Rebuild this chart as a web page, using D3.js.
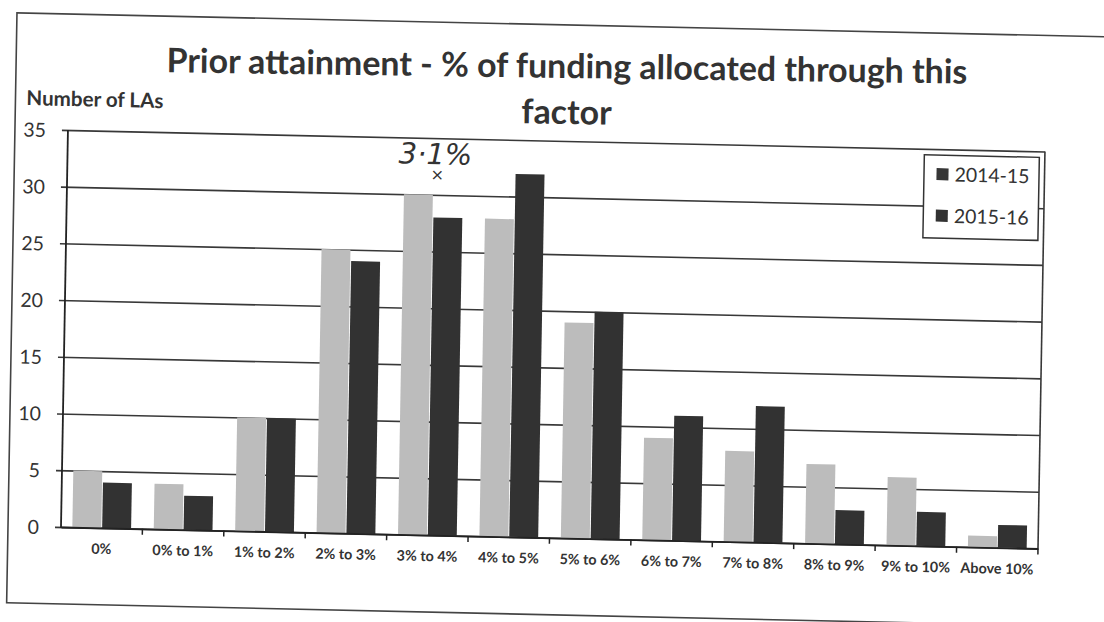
<!DOCTYPE html>
<html>
<head>
<meta charset="utf-8">
<script src="https://cdn.jsdelivr.net/npm/d3@7"></script>
<style>
  html, body { margin: 0; padding: 0; background: #fff; }
  svg { display: block; }
  text { font-family: Lato, "Open Sans", sans-serif; fill: #333; }
</style>
</head>
<body>
<svg id="chart" width="1104" height="622"></svg>
<script>
// ---- data ----
const categories = ["0%", "0% to 1%", "1% to 2%", "2% to 3%", "3% to 4%", "4% to 5%",
                    "5% to 6%", "6% to 7%", "7% to 8%", "8% to 9%", "9% to 10%", "Above 10%"];
const seriesNames = ["2014-15", "2015-16"];
const values2014 = [5, 4, 10, 25, 30, 28, 19, 9, 8, 7, 6, 1];
const values2015 = [4, 3, 10, 24, 28, 32, 20, 11, 12, 3, 3, 2];
const yTicks = [0, 5, 10, 15, 20, 25, 30, 35];
const titleLines = ["Prior attainment - % of funding allocated through this", "factor"];
const yAxisTitle = "Number of LAs";
const annotation = "3·1%";

// ---- layout ----
const W = 1104, H = 622;
const plot = { left: 61, right: 1038, top: 130, bottom: 527 };
const barColors = ["#bcbcbc", "#323232"];
const legendColors = ["#363636", "#323232"];
const lineColor = "#383838";

const svg = d3.select("#chart");
svg.append("rect").attr("width", W).attr("height", H).attr("fill", "#fff");

// scanned page is slightly tilted: apply a small skew/rotation around the plot origin
const root = svg.append("g")
  .attr("transform", `translate(${plot.left},${plot.bottom}) matrix(1,0.022,-0.0175,1,0,0) translate(${-plot.left},${-plot.bottom})`);

// outer frame
root.append("rect")
  .attr("x", 8).attr("y", 14).attr("width", 1112).attr("height", 590)
  .attr("fill", "none").attr("stroke", "#444").attr("stroke-width", 1.6);

const x0 = d3.scaleBand().domain(categories).range([plot.left, plot.right]).paddingInner(0).paddingOuter(0);
const x1 = d3.scaleBand().domain(seriesNames).range([0, x0.bandwidth()]).paddingInner(0.03).paddingOuter(0.38);
const y = d3.scaleLinear().domain([0, 35]).range([plot.bottom, plot.top]);

// gridlines + y ticks
const yAxis = d3.axisLeft(y).tickValues(yTicks).tickSize(-(plot.right - plot.left)).tickSizeOuter(0).tickPadding(0);
const gy = root.append("g").attr("transform", `translate(${plot.left},0)`).call(yAxis);
gy.select(".domain").remove();
gy.selectAll(".tick line").attr("stroke", lineColor).attr("stroke-width", 1.6).attr("x1", -6);
gy.selectAll(".tick text")
  .attr("x", -22).attr("dy", "0.36em")
  .style("font-size", "19.5px").style("font-family", "Lato, sans-serif").attr("fill", "#333");

// plot right border and y axis line
root.append("line").attr("x1", plot.right).attr("x2", plot.right).attr("y1", plot.top).attr("y2", plot.bottom)
  .attr("stroke", lineColor).attr("stroke-width", 1.6);
root.append("line").attr("x1", plot.left).attr("x2", plot.left).attr("y1", plot.top).attr("y2", plot.bottom + 1)
  .attr("stroke", "#222").attr("stroke-width", 1.8);

// bars
const data = categories.map((c, i) => ({ cat: c, vals: [values2014[i], values2015[i]] }));
const groups = root.append("g").selectAll("g").data(data).join("g")
  .attr("transform", d => `translate(${x0(d.cat)},0)`);
groups.selectAll("rect").data(d => d.vals.map((v, j) => ({ v, s: seriesNames[j], j })))
  .join("rect")
  .attr("x", d => x1(d.s))
  .attr("width", x1.bandwidth())
  .attr("y", d => y(d.v))
  .attr("height", d => y(0) - y(d.v))
  .attr("fill", d => barColors[d.j]);

// x axis
const xAxis = d3.axisBottom(x0).tickSize(0).tickPadding(0);
const gx = root.append("g").attr("transform", `translate(0,${plot.bottom})`).call(xAxis);
gx.select(".domain").attr("stroke", "#222").attr("stroke-width", 1.8);
gx.selectAll(".tick text")
  .attr("y", 26).attr("dy", 0)
  .style("font-size", "13.5px").style("font-weight", "700").style("font-family", "Lato, sans-serif").attr("fill", "#333");
// boundary tick marks
root.append("g").selectAll("line").data(categories.slice(1).concat(["__end"])).join("line")
  .attr("x1", d => d === "__end" ? plot.right : x0(d))
  .attr("x2", d => d === "__end" ? plot.right : x0(d))
  .attr("y1", plot.bottom).attr("y2", plot.bottom + 6)
  .attr("stroke", "#222").attr("stroke-width", 1.5);

// fit helper (sets font size so text spans the target width)
function fit(sel, target) {
  const node = sel.node();
  const fs = parseFloat(sel.style("font-size"));
  const w = node.getComputedTextLength();
  sel.style("font-size", (fs * target / w).toFixed(2) + "px");
}

// x labels: fit typical label width
gx.selectAll(".tick text").each(function(d) {
  if (d === "Above 10%") fit(d3.select(this), 73);
});
const xfs = gx.selectAll(".tick text").filter(d => d === "Above 10%").style("font-size");
gx.selectAll(".tick text").style("font-size", xfs);

// y axis title
const yt = root.append("text").attr("x", 19).attr("y", 106)
  .style("font-size", "16px").style("font-weight", "700").text(yAxisTitle);
fit(yt, 137);

// title
const tg = root.append("g").attr("transform", "rotate(-0.45,559,90)");
const t1 = tg.append("text").attr("x", 559).attr("y", 67).attr("text-anchor", "middle")
  .style("font-size", "32px").style("font-weight", "700").text(titleLines[0]);
fit(t1, 801);
tg.append("text").attr("x", 559).attr("y", 113).attr("text-anchor", "middle")
  .style("font-size", t1.style("font-size")).style("font-weight", "700").text(titleLines[1]);

// handwritten annotation
root.append("text").attr("x", 392).attr("y", 156)
  .style("font-size", "29px").style("font-style", "italic").style("font-weight", "300")
  .style("font-family", "'DejaVu Sans', sans-serif").attr("fill", "#555").text(annotation);
root.append("text").attr("x", 431).attr("y", 172).attr("text-anchor", "middle")
  .style("font-size", "16px").style("font-family", "'DejaVu Sans', sans-serif").attr("fill", "#555").text("×");

// legend
const lg = root.append("g");
lg.append("rect").attr("x", 917.5).attr("y", 136).attr("width", 115).attr("height", 83)
  .attr("fill", "#fff").attr("stroke", "#333").attr("stroke-width", 1.5);
const items = lg.selectAll("g.item").data(seriesNames).join("g").attr("class", "item")
  .attr("transform", (d, i) => `translate(930,${149 + i * 41.5})`);
items.append("rect").attr("width", 12).attr("height", 12).attr("fill", (d, i) => legendColors[i]);
items.append("text").attr("x", 18).attr("y", 13).style("font-size", "20px").text(d => d)
  .each(function() { fit(d3.select(this), 75); });
</script>
</body>
</html>
